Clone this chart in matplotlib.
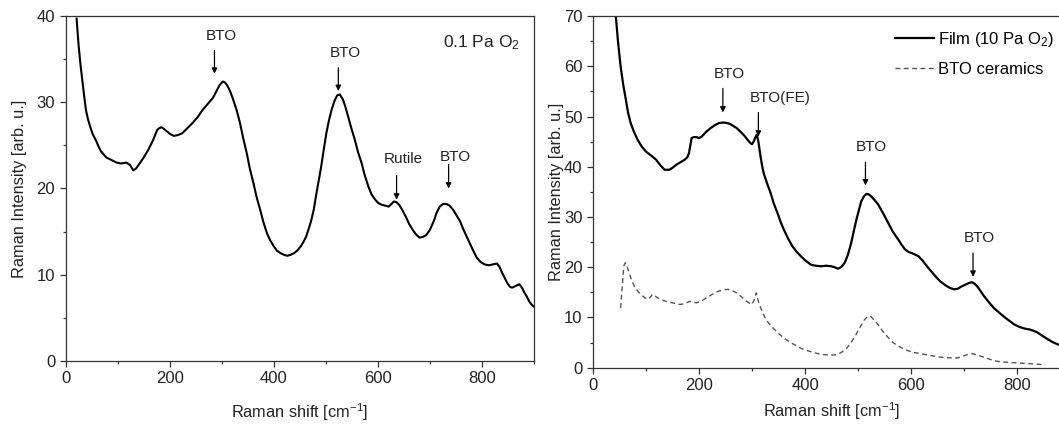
import matplotlib
matplotlib.use("Agg")
import matplotlib.pyplot as plt
from matplotlib.ticker import MultipleLocator

plt.rcParams["font.family"] = ["Liberation Sans", "DejaVu Sans"]
plt.rcParams["mathtext.fontset"] = "custom"
plt.rcParams["mathtext.rm"] = "Liberation Sans"
plt.rcParams["mathtext.it"] = "Liberation Sans:italic"

# --- 0.1 Pa O2 film (left panel) ---
shift_a = [21, 25, 29, 33, 36, 39, 43, 47, 52, 58, 63, 68, 78, 88, 98, 107, 117,
           124, 130, 135, 140, 150, 159, 168, 176, 180, 184, 189, 195, 201, 208,
           216, 224, 234, 244, 254, 263, 273, 283, 290, 296, 302, 306, 310, 316,
           322, 329, 335, 341, 348, 354, 361, 367, 374, 380, 387, 393, 400, 406,
           413, 420, 426, 432, 439, 445, 452, 457, 462, 467, 472, 477, 481, 486,
           491, 496, 501, 506, 511, 517, 522, 527, 533, 538, 543, 549, 556, 562,
           569, 575, 582, 588, 595, 601, 608, 615, 621, 626, 631, 636, 641, 647,
           654, 660, 667, 673, 680, 687, 693, 700, 708, 713, 719, 725, 732, 738,
           745, 751, 758, 764, 771, 778, 784, 790, 797, 805, 813, 821, 829, 834,
           839, 844, 849, 854, 858, 865, 872, 877, 881, 886, 891, 896, 900]
int_a = [39.7, 36.5, 34.1, 32.0, 30.5, 29.1, 28.0, 27.2, 26.3, 25.6, 24.9, 24.3,
         23.6, 23.3, 23.0, 22.9, 23.0, 22.7, 22.1, 22.3, 22.7, 23.6, 24.5, 25.6,
         26.8, 27.0, 27.1, 26.9, 26.6, 26.3, 26.1, 26.2, 26.4, 27.0, 27.6, 28.3,
         29.1, 29.8, 30.5, 31.3, 32.0, 32.4, 32.3, 32.0, 31.3, 30.3, 29.0, 27.6,
         25.9, 24.1, 22.3, 20.6, 19.0, 17.5, 16.1, 14.8, 14.0, 13.3, 12.8, 12.5,
         12.3, 12.2, 12.3, 12.5, 12.8, 13.3, 13.8, 14.4, 15.3, 16.3, 17.6, 19.1,
         20.8, 22.5, 24.5, 26.4, 27.9, 29.1, 30.2, 30.8, 30.9, 30.3, 29.4, 28.3,
         27.0, 25.6, 24.2, 22.9, 21.5, 20.2, 19.3, 18.7, 18.3, 18.1, 18.0, 17.9,
         18.2, 18.5, 18.4, 18.1, 17.5, 16.7, 15.9, 15.2, 14.7, 14.3, 14.4, 14.6,
         15.2, 16.3, 17.2, 17.9, 18.2, 18.2, 18.0, 17.5, 16.9, 16.2, 15.3, 14.4,
         13.5, 12.7, 12.0, 11.5, 11.2, 11.1, 11.2, 11.3, 10.9, 10.2, 9.6, 9.0,
         8.6, 8.5, 8.7, 8.9, 8.5, 8.0, 7.5, 6.9, 6.5, 6.3]

# --- 10 Pa O2 film (right panel, solid) ---
shift_b = [43, 47, 52, 57, 62, 66, 71, 77, 84, 92, 100, 110, 119, 127, 135, 144,
           150, 157, 165, 173, 178, 181, 184, 186, 190, 195, 200, 205, 214, 222,
           230, 238, 246, 253, 259, 265, 271, 279, 287, 292, 297, 300, 303, 306,
           309, 312, 316, 319, 322, 328, 335, 341, 348, 354, 360, 368, 376, 384,
           392, 400, 411, 420, 430, 440, 449, 456, 462, 468, 475, 481, 487, 492,
           497, 502, 506, 511, 516, 520, 525, 531, 538, 547, 557, 566, 576, 582,
           589, 596, 602, 608, 614, 622, 630, 638, 646, 655, 665, 673, 681, 688,
           694, 702, 710, 715, 719, 724, 729, 738, 748, 757, 767, 776, 786, 795,
           805, 814, 824, 830, 837, 846, 856, 867, 878, 889, 900]
int_b = [70.0, 65.0, 60.0, 56.3, 53.3, 50.8, 48.7, 47.0, 45.4, 44.0, 43.0, 42.2,
         41.4, 40.3, 39.4, 39.4, 39.8, 40.4, 40.9, 41.4, 41.9, 42.7, 44.5, 45.7,
         45.9, 45.9, 45.7, 46.0, 47.0, 47.7, 48.3, 48.7, 48.8, 48.7, 48.5, 48.1,
         47.7, 46.9, 46.0, 45.3, 44.7, 44.5, 45.0, 45.8, 46.4, 45.0, 42.1, 40.2,
         38.7, 36.8, 34.8, 32.7, 30.8, 29.0, 27.5, 25.7, 24.2, 23.1, 22.2, 21.4,
         20.5, 20.3, 20.2, 20.3, 20.2, 20.0, 19.7, 20.0, 20.9, 22.5, 24.8, 27.2,
         29.5, 31.5, 33.1, 34.1, 34.6, 34.5, 34.1, 33.4, 32.5, 30.8, 28.8, 27.0,
         25.5, 24.5, 23.5, 23.0, 22.8, 22.5, 22.2, 21.3, 20.2, 19.2, 18.2, 17.2,
         16.4, 15.9, 15.6, 15.7, 16.1, 16.5, 16.9, 17.0, 16.8, 16.3, 15.6, 14.2,
         12.9, 11.8, 10.9, 10.1, 9.3, 8.6, 8.1, 7.8, 7.6, 7.4, 7.1, 6.5, 5.8, 5.1,
         4.6, 4.3, 4.0]

# --- BTO ceramics (right panel, dashed) ---
shift_c = [52, 55, 58, 61, 64, 68, 73, 78, 84, 90, 97, 103, 108, 112, 117, 122,
           130, 138, 150, 163, 172, 182, 188, 195, 205, 214, 225, 236, 246, 255,
           263, 271, 280, 290, 296, 300, 304, 308, 312, 316, 319, 323, 328, 338,
           348, 360, 373, 386, 398, 411, 424, 436, 449, 459, 468, 478, 487, 495,
           503, 511, 519, 525, 531, 538, 547, 557, 566, 576, 589, 602, 618, 633,
           649, 665, 684, 694, 703, 710, 716, 725, 735, 748, 761, 777, 793, 808,
           824, 838, 853]
int_c = [11.9, 16.0, 20.2, 20.9, 20.2, 18.9, 17.4, 16.2, 15.3, 14.6, 14.0, 13.6,
         14.0, 14.6, 14.3, 13.9, 13.5, 13.2, 12.9, 12.6, 12.7, 13.2, 13.1, 12.9,
         13.3, 13.9, 14.6, 15.2, 15.5, 15.6, 15.3, 14.9, 14.1, 13.2, 12.8, 12.6,
         13.5, 14.9, 13.2, 12.0, 11.3, 10.3, 9.3, 8.1, 7.0, 5.9, 5.0, 4.2, 3.6,
         3.2, 2.8, 2.6, 2.5, 2.6, 3.0, 3.8, 5.0, 6.4, 7.9, 9.4, 10.3, 10.1, 9.4,
         8.6, 7.2, 6.0, 5.0, 4.3, 3.6, 3.1, 2.8, 2.5, 2.2, 2.0, 1.9, 2.1, 2.5,
         2.7, 2.8, 2.5, 2.2, 1.7, 1.3, 1.1, 1.0, 0.9, 0.8, 0.7, 0.6]

# peak labels: (text, text x, text y, arrow x, arrow top, arrow tip)
peaks_a = [("BTO", 299, 37.7, 286, 36.0, 33.3),
           ("BTO", 537, 35.7, 524, 34.0, 31.3),
           ("Rutile", 648, 23.4, 636, 21.5, 18.7),
           ("BTO", 748, 23.6, 736, 22.8, 20.0)]
peaks_b = [("BTO", 257, 58.5, 245, 55.6, 50.8),
           ("BTO(FE)", 353, 53.6, 312, 50.8, 46.0),
           ("BTO", 525, 43.9, 514, 40.9, 36.3),
           ("BTO", 729, 25.8, 717, 22.8, 18.1)]


def style_axes(ax, ymax, ystep):
    ax.set_xlim(0, 900)
    ax.set_ylim(0, ymax)
    ax.xaxis.set_major_locator(MultipleLocator(200))
    ax.xaxis.set_minor_locator(MultipleLocator(100))
    ax.yaxis.set_major_locator(MultipleLocator(ystep))
    ax.yaxis.set_minor_locator(MultipleLocator(ystep / 2))
    ax.tick_params(which="both", direction="out", top=False, right=False,
                   color="#333333", width=0.9)
    ax.tick_params(which="major", length=4, labelsize=12, labelcolor="#222222")
    ax.tick_params(which="minor", length=2.5)
    for s in ax.spines.values():
        s.set_linewidth(0.9)
        s.set_color("#333333")


def mark_peaks(ax, peaks):
    for txt, tx, ty, ax_x, y0, y1 in peaks:
        ax.text(tx, ty, txt, ha="center", va="center", fontsize=11, color="#222222")
        ax.annotate("", xy=(ax_x, y1), xytext=(ax_x, y0),
                    arrowprops=dict(arrowstyle="-|>", color="black", lw=0.9,
                                    mutation_scale=8, shrinkA=0, shrinkB=0))


fig = plt.figure(figsize=(10.59, 4.25), dpi=100)
ax1 = fig.add_axes([0.0620, 0.1506, 0.4422, 0.8118])
ax2 = fig.add_axes([0.5600, 0.1348, 0.4504, 0.8275])

ax1.plot(shift_a, int_a, color="black", lw=1.5)
style_axes(ax1, 40, 10)
mark_peaks(ax1, peaks_a)
ax1.text(725, 36.9, "0.1 Pa O$_2$", fontsize=12.5, va="center", color="#222222")
ax1.set_xlabel("Raman shift [cm$^{-1}$]", fontsize=11.8, labelpad=11, color="#222222")
ax1.set_ylabel("Raman Intensity [arb. u.]", fontsize=11.8, labelpad=7, color="#222222")

ax2.plot(shift_b, int_b, color="black", lw=1.6, label="Film (10 Pa O$_2$)")
ax2.plot(shift_c, int_c, color="#555555", lw=1.0, ls=(0, (3.5, 2.5)),
         label="BTO ceramics")
style_axes(ax2, 70, 10)
mark_peaks(ax2, peaks_b)
ax2.set_xlabel("Raman shift [cm$^{-1}$]", fontsize=11.8, labelpad=5, color="#222222")
ax2.set_ylabel("Raman Intensity [arb. u.]", fontsize=11.8, labelpad=0, color="#222222")

fig.legend(loc="upper left", bbox_to_anchor=(887 / 1059, 1 - 22 / 425),
           bbox_transform=fig.transFigure, frameon=False, fontsize=12,
           borderpad=0, handlelength=2.3, handletextpad=0.25, labelspacing=0.75)

fig.savefig("out.png", dpi=100)
